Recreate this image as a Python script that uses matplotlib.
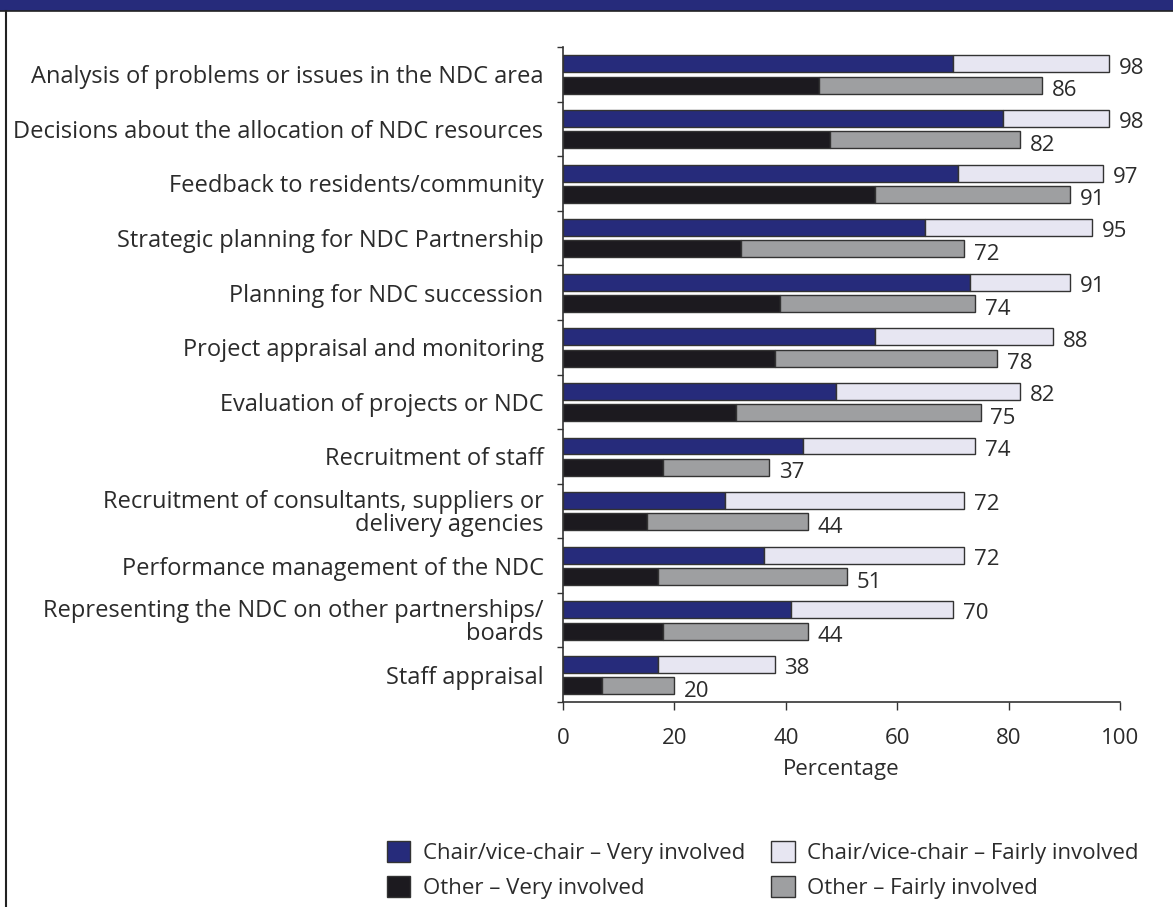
import numpy as np
import matplotlib
matplotlib.use('Agg')
import matplotlib.pyplot as plt
from matplotlib.patches import Patch, Rectangle
from matplotlib.lines import Line2D

plt.rcParams['font.family'] = ['Open Sans', 'DejaVu Sans']

# data
categories = [
    'Analysis of problems or issues in the NDC area',
    'Decisions about the allocation of NDC resources',
    'Feedback to residents/community',
    'Strategic planning for NDC Partnership',
    'Planning for NDC succession',
    'Project appraisal and monitoring',
    'Evaluation of projects or NDC',
    'Recruitment of staff',
    'Recruitment of consultants, suppliers or\ndelivery agencies',
    'Performance management of the NDC',
    'Representing the NDC on other partnerships/\nboards',
    'Staff appraisal',
]
chair_very = [70, 79, 71, 65, 73, 56, 49, 43, 29, 36, 41, 17]
chair_total = [98, 98, 97, 95, 91, 88, 82, 74, 72, 72, 70, 38]
other_very = [46, 48, 56, 32, 39, 38, 31, 18, 15, 17, 18, 7]
other_total = [86, 82, 91, 72, 74, 78, 75, 37, 44, 51, 44, 20]
x_ticks = [0, 20, 40, 60, 80, 100]

legend_labels = ['Chair/vice-chair \u2013 Very involved', 'Other \u2013 Very involved',
                 'Chair/vice-chair \u2013 Fairly involved', 'Other \u2013 Fairly involved']

NAVY = '#262b7b'
LAV = '#e7e6f2'
BLACK = '#1c1a1f'
GREY = '#9e9fa1'
EDGE = '#333333'
TXT = '#2b2b2b'
FS_CAT = 17
FS = 16

W, H = 1173, 907
fig = plt.figure(figsize=(W / 100, H / 100), dpi=100)
ax = fig.add_axes([563 / W, 1 - 702 / H, (1120 - 563) / W, (702 - 47) / H])

# header band and left border
fig.patches.append(Rectangle((0, 1 - 11 / H), 1, 11 / H, transform=fig.transFigure,
                             facecolor=NAVY, edgecolor='none'))
fig.lines.append(Line2D([0, 1], [1 - 11 / H, 1 - 11 / H], transform=fig.transFigure,
                        color='#222222', lw=1.2))
fig.lines.append(Line2D([6 / W, 6 / W], [0, 1 - 11 / H], transform=fig.transFigure,
                        color='#222222', lw=1.5))

y = np.arange(len(categories))
cv = np.array(chair_very)
ct = np.array(chair_total)
ov = np.array(other_very)
ot = np.array(other_total)
h = 0.31
yc = y - 0.19
yo = y + 0.2

ax.barh(yc, cv, height=h, color=NAVY, edgecolor=EDGE, lw=1)
ax.barh(yc, ct - cv, left=cv, height=h, color=LAV, edgecolor=EDGE, lw=1)
ax.barh(yo, ov, height=h, color=BLACK, edgecolor=EDGE, lw=1)
ax.barh(yo, ot - ov, left=ov, height=h, color=GREY, edgecolor=EDGE, lw=1)

for i in range(len(categories)):
    ax.annotate(str(chair_total[i]), (ct[i], yc[i]), xytext=(7, -3), textcoords='offset points',
                ha='left', va='center', fontsize=FS, color=TXT)
    ax.annotate(str(other_total[i]), (ot[i], yo[i]), xytext=(7, -4), textcoords='offset points',
                ha='left', va='center', fontsize=FS, color=TXT)

ax.set_xlim(0, 100)
ax.set_ylim(len(categories) - 0.5, -0.5)
ax.set_xticks(x_ticks)
ax.set_xticklabels([str(t) for t in x_ticks], fontsize=FS, color=TXT)
ax.set_yticks(y)
ax.set_yticklabels(categories, fontsize=FS_CAT, color=TXT, linespacing=0.95)
ax.set_yticks(np.arange(len(categories) + 1) - 0.5, minor=True)
ax.tick_params(axis='y', which='major', length=0, pad=14)
ax.tick_params(axis='y', which='minor', length=4.5, width=1, color=EDGE, direction='out')
ax.tick_params(axis='x', length=6, width=1, color=EDGE, pad=13)
for s in ['top', 'right']:
    ax.spines[s].set_visible(False)
for s in ['left', 'bottom']:
    ax.spines[s].set_color(EDGE)
    ax.spines[s].set_linewidth(1.2)
ax.set_xlabel('Percentage', fontsize=FS, color=TXT, labelpad=7)

handles = [Patch(facecolor=c, edgecolor=EDGE, lw=1) for c in [NAVY, BLACK, LAV, GREY]]
leg = fig.legend(handles, legend_labels, loc='upper left', bbox_to_anchor=(367 / W, 1 - 821 / H),
                 ncol=2, frameon=False, fontsize=FS, handlelength=1.05, handleheight=1.05,
                 handletextpad=0.55, columnspacing=1.2, labelspacing=0.55)
for t in leg.get_texts():
    t.set_color(TXT)

fig.savefig('out.png', dpi=100)
